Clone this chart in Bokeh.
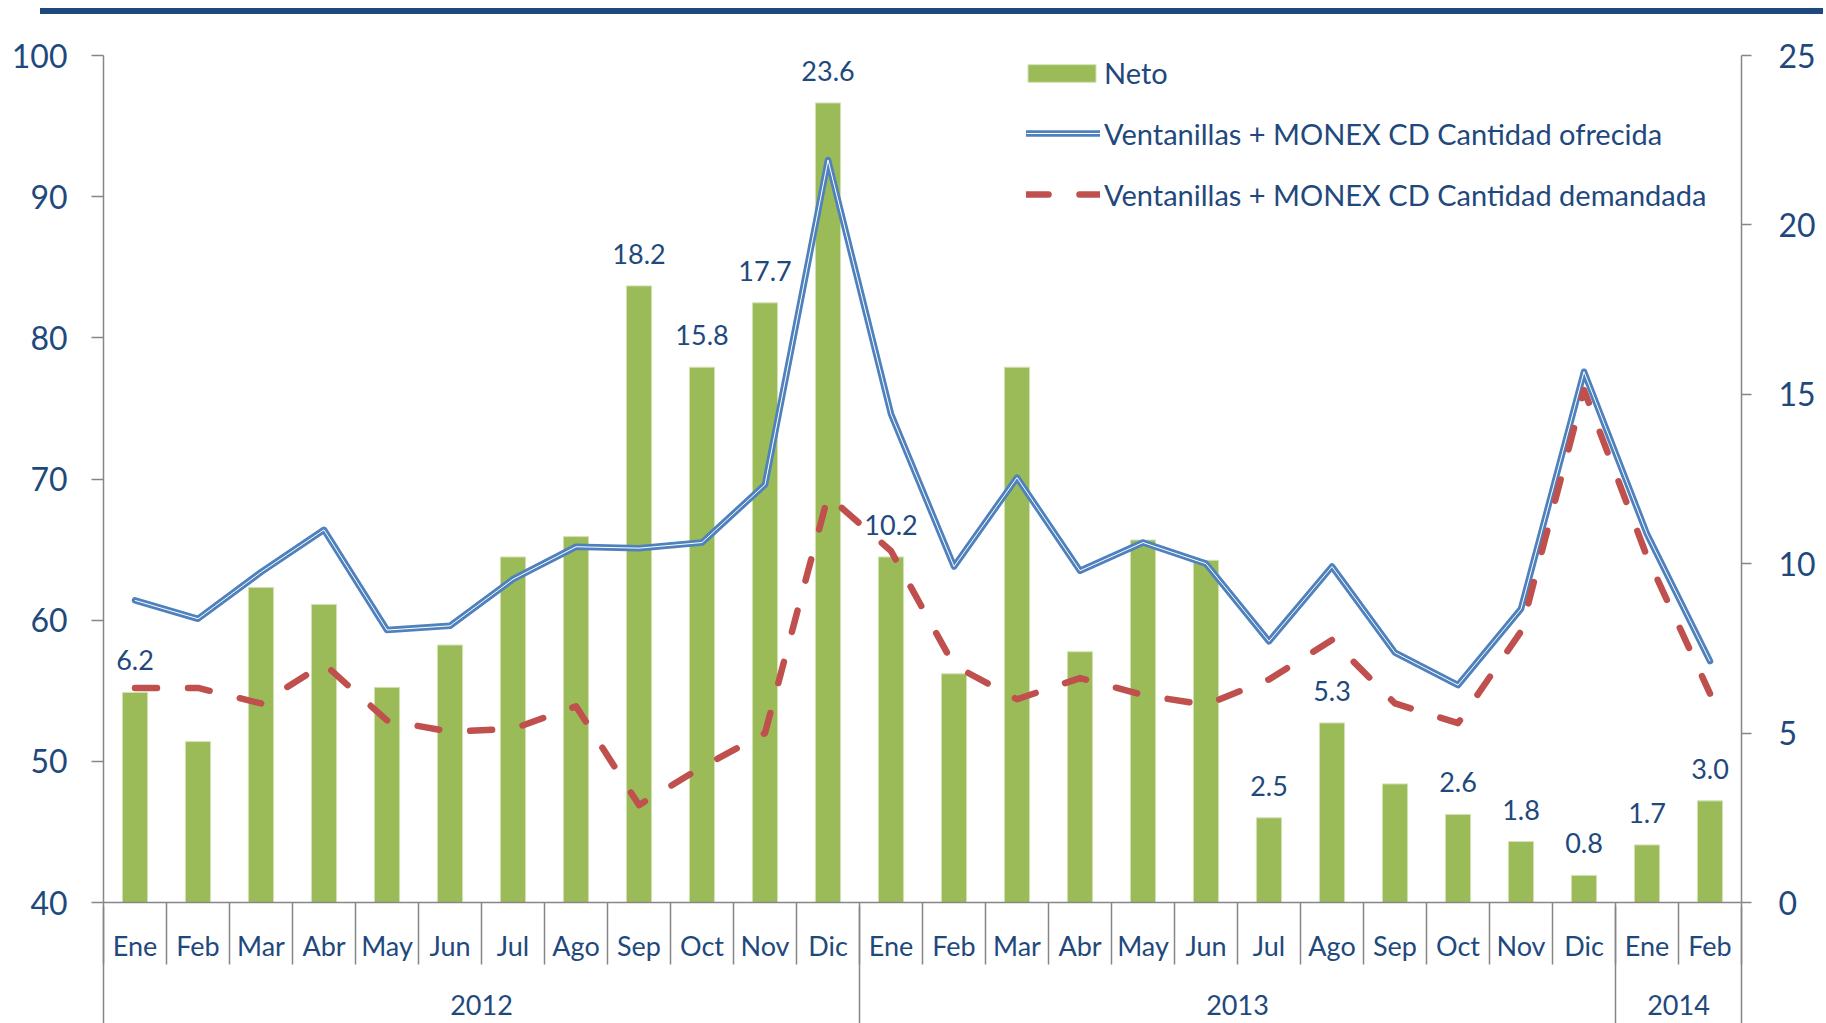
from bokeh.plotting import figure
from bokeh.models import (Range1d, LinearAxis, FixedTicker, ColumnDataSource,
                          Legend, LegendItem, Div)
from bokeh.layouts import column
from bokeh.embed import file_html
from bokeh.resources import INLINE
from bokeh.core.properties import value

# ---------------- data ----------------
months = ["Ene", "Feb", "Mar", "Abr", "May", "Jun", "Jul", "Ago", "Sep", "Oct", "Nov", "Dic",
          "Ene", "Feb", "Mar", "Abr", "May", "Jun", "Jul", "Ago", "Sep", "Oct", "Nov", "Dic",
          "Ene", "Feb"]
years = ["2012", "2013", "2014"]
year_counts = [12, 12, 2]

neto = [6.2, 4.75, 9.3, 8.8, 6.35, 7.6, 10.2, 10.8, 18.2, 15.8, 17.7, 23.6,
        10.2, 6.75, 15.8, 7.4, 10.7, 10.1, 2.5, 5.3, 3.5, 2.6, 1.8, 0.8,
        1.7, 3.0]
ofrecida = [61.4, 60.1, 63.4, 66.4, 59.3, 59.6, 62.9, 65.2, 65.1, 65.5, 69.6, 92.6,
            74.6, 63.8, 70.1, 63.5, 65.5, 64.0, 58.5, 63.8, 57.7, 55.4, 60.8, 77.6,
            66.1, 57.1]
demandada = [55.2, 55.2, 54.1, 56.9, 52.9, 52.1, 52.3, 53.9, 46.9, 49.6, 52.0, 68.8,
             64.9, 56.8, 54.4, 55.9, 54.7, 54.0, 55.8, 58.6, 54.1, 52.7, 59.2, 76.3,
             64.5, 54.8]
labeled = [0, 8, 9, 10, 11, 12, 18, 19, 21, 22, 23, 24, 25]

left_ticks = [40, 50, 60, 70, 80, 90, 100]
right_ticks = [0, 5, 10, 15, 20, 25]

label_neto = "Neto"
label_of = "Ventanillas + MONEX CD Cantidad ofrecida"
label_de = "Ventanillas + MONEX CD Cantidad demandada"

# ---------------- style ----------------
FONT = "Lato"
TXT = "#1F497D"
GRAY = "#868686"
GREEN = "#9BBB59"
BLUE = "#4F81BD"
RED = "#C0504D"

x = list(range(len(months)))

p = figure(width=1818, height=1009,
           x_range=Range1d(-0.5, len(months) - 0.5), y_range=Range1d(40, 100),
           x_axis_type=None, y_axis_type=None,
           output_backend="svg", toolbar_location=None,
           min_border_left=103, min_border_right=71, min_border_top=41, min_border_bottom=121)
p.extra_y_ranges = {"neto": Range1d(0, 25)}
p.outline_line_color = None
p.background_fill_color = "white"
p.border_fill_color = "white"

axis_common = dict(axis_line_color=GRAY, axis_line_width=1.5,
                   major_tick_line_color=GRAY, major_tick_line_width=1.5,
                   minor_tick_line_color=None,
                   major_label_text_font=FONT, major_label_text_color=TXT)

yl = LinearAxis(ticker=FixedTicker(ticks=left_ticks, minor_ticks=[]),
                major_tick_out=12, major_tick_in=0, major_label_standoff=24,
                major_label_text_font_size="32px", **axis_common)
p.add_layout(yl, "left")

yr = LinearAxis(y_range_name="neto", ticker=FixedTicker(ticks=right_ticks, minor_ticks=[]),
                major_tick_out=10, major_tick_in=0, major_label_standoff=27,
                major_label_text_font_size="32px", **axis_common)
p.add_layout(yr, "right")

# month axis: labels at centres, separators as minor ticks at boundaries
bounds_m = [i - 0.5 for i in range(len(months) + 1)]
xa = LinearAxis(ticker=FixedTicker(ticks=x, minor_ticks=bounds_m),
                major_label_overrides={i: m for i, m in enumerate(months)},
                axis_line_color=GRAY, axis_line_width=1.5,
                major_tick_line_color=None, major_tick_out=0, major_tick_in=0,
                minor_tick_line_color=GRAY, minor_tick_line_width=1.5,
                minor_tick_out=62, minor_tick_in=0,
                major_label_standoff=-36,
                major_label_text_font=FONT, major_label_text_font_size="27px",
                major_label_text_color=TXT)
p.add_layout(xa, "below")

# year axis
ybounds = [-0.5]
for c in year_counts:
    ybounds.append(ybounds[-1] + c)
ycenters = [(ybounds[i] + ybounds[i + 1]) / 2 for i in range(len(years))]
ya = LinearAxis(ticker=FixedTicker(ticks=ycenters, minor_ticks=ybounds),
                major_label_overrides={c: yv for c, yv in zip(ycenters, years)},
                axis_line_color=None,
                major_tick_line_color=None, major_tick_out=0, major_tick_in=0,
                minor_tick_line_color=GRAY, minor_tick_line_width=1.5,
                minor_tick_out=62, minor_tick_in=58,
                major_label_standoff=-32,
                major_label_text_font=FONT, major_label_text_font_size="27px",
                major_label_text_color=TXT)
p.add_layout(ya, "below")

src = ColumnDataSource(dict(x=x, neto=neto, ofrecida=ofrecida, demandada=demandada))

bars = p.vbar(x="x", top="neto", bottom=0, width=0.4, y_range_name="neto",
              fill_color=GREEN, line_color="#D4E2B6", line_width=1, source=src)
blue = p.line("x", "ofrecida", source=src, line_color=BLUE, line_width=6.5,
              line_join="round", line_cap="round")
white = p.line("x", "ofrecida", source=src, line_color="white", line_width=1.0,
               line_join="round")
red = p.line("x", "demandada", source=src, line_color=RED, line_width=6.5,
             line_dash="22 31", line_cap="round", line_join="round")

lsrc = ColumnDataSource(dict(x=[x[i] for i in labeled],
                             y=[neto[i] for i in labeled],
                             t=["%.1f" % neto[i] for i in labeled]))
p.text("x", "y", text="t", source=lsrc, y_range_name="neto",
       text_align="center", text_baseline="alphabetic", y_offset=-32,
       text_font=value(FONT), text_font_size="27px", text_color=TXT)

leg_common = dict(padding=0, margin=0, border_line_color=None,
                  background_fill_color=None, background_fill_alpha=0,
                  label_text_font=FONT, label_text_font_size="29px",
                  label_text_color=TXT)
leg1 = Legend(items=[LegendItem(label=label_neto, renderers=[bars])],
              location=(916, 812), glyph_width=85, glyph_height=22, label_height=22,
              label_standoff=0, **leg_common)
leg2 = Legend(items=[LegendItem(label=label_of, renderers=[blue, white]),
                     LegendItem(label=label_de, renderers=[red])],
              location=(923, 690), glyph_width=74, glyph_height=36, label_height=36,
              spacing=25, label_standoff=4, **leg_common)
p.add_layout(leg1)
p.add_layout(leg2)

bar_top = Div(text="", width=1783, height=6, margin=(8, 0, 0, 40),
              styles={"background-color": "#1F497D"})

layout = column(bar_top, p, spacing=0)
open("out.html", "w").write(file_html(layout, INLINE))
